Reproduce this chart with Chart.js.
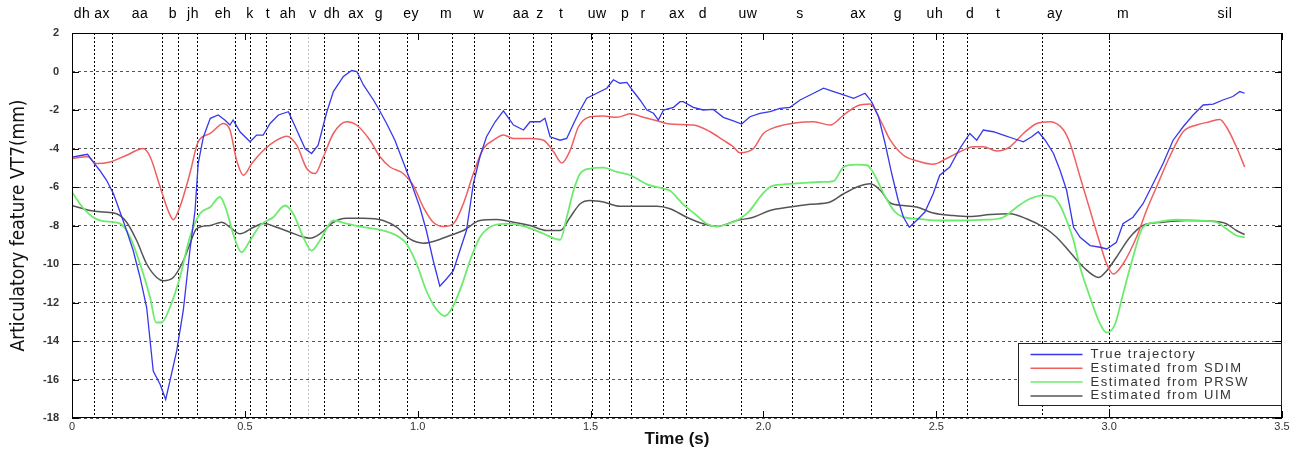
<!DOCTYPE html>
<html>
<head>
<meta charset="utf-8">
<script src="https://cdn.jsdelivr.net/npm/chart.js@4.4.1/dist/chart.umd.min.js"></script>
<style>
  html, body { margin: 0; padding: 0; background: #fff; }
  canvas { display: block; }
</style>
</head>
<body>
<canvas id="vt7-chart" width="1293" height="453"></canvas>
<script>
// Curves: time (s) and VT7 value (mm)
const trueTime = [0, 0.03, 0.045, 0.061, 0.08, 0.1, 0.12, 0.139, 0.158, 0.177, 0.197, 0.216, 0.235, 0.255, 0.271, 0.283, 0.303, 0.322, 0.341, 0.356, 0.365, 0.38, 0.4, 0.423, 0.442, 0.457, 0.466, 0.486, 0.515, 0.534, 0.553, 0.573, 0.597, 0.626, 0.65, 0.674, 0.693, 0.712, 0.736, 0.756, 0.785, 0.809, 0.824, 0.843, 0.872, 0.886, 0.91, 0.934, 0.958, 0.982, 1.006, 1.025, 1.045, 1.064, 1.083, 1.103, 1.122, 1.141, 1.161, 1.18, 1.199, 1.224, 1.248, 1.277, 1.306, 1.325, 1.354, 1.368, 1.383, 1.412, 1.431, 1.451, 1.47, 1.489, 1.508, 1.528, 1.547, 1.566, 1.585, 1.605, 1.624, 1.643, 1.663, 1.682, 1.696, 1.711, 1.74, 1.759, 1.768, 1.797, 1.826, 1.855, 1.884, 1.913, 1.937, 1.961, 1.99, 2.019, 2.048, 2.077, 2.106, 2.135, 2.174, 2.203, 2.232, 2.261, 2.294, 2.313, 2.333, 2.352, 2.371, 2.39, 2.405, 2.422, 2.443, 2.467, 2.491, 2.51, 2.539, 2.568, 2.597, 2.617, 2.636, 2.665, 2.694, 2.723, 2.752, 2.776, 2.795, 2.815, 2.839, 2.858, 2.877, 2.897, 2.916, 2.945, 2.974, 2.993, 3.021, 3.04, 3.069, 3.098, 3.127, 3.156, 3.185, 3.214, 3.243, 3.272, 3.301, 3.329, 3.358, 3.378, 3.392];
const trueVal = [-4.45, -4.35, -4.3, -4.7, -5.13, -5.65, -6.35, -7.3, -8.26, -9.3, -10.7, -12.26, -15.56, -16.26, -17.04, -16.1, -14.5, -12.4, -9.3, -7.2, -4.78, -3.4, -2.43, -2.26, -2.52, -2.78, -2.52, -3.13, -3.65, -3.3, -3.3, -2.7, -2.26, -2.09, -3.04, -4.0, -4.26, -3.83, -2.17, -1.04, -0.26, 0.05, 0.0, -0.7, -1.48, -1.91, -2.7, -3.57, -4.7, -5.83, -7.04, -8.26, -9.83, -11.15, -10.78, -10.35, -9.3, -8.26, -5.83, -4.43, -3.39, -2.61, -2.04, -2.78, -3.04, -2.61, -2.61, -2.43, -3.39, -3.57, -3.48, -2.7, -2.0, -1.39, -1.22, -1.04, -0.87, -0.43, -0.61, -0.57, -1.04, -1.48, -2.0, -2.17, -2.52, -2.0, -1.86, -1.57, -1.57, -1.86, -2.0, -1.97, -2.38, -2.56, -2.73, -2.35, -2.17, -2.09, -1.91, -1.86, -1.48, -1.22, -0.87, -1.04, -1.22, -1.39, -1.13, -1.57, -2.35, -3.74, -5.3, -6.7, -7.57, -8.09, -7.74, -7.3, -6.35, -5.39, -4.96, -4.0, -3.22, -3.57, -3.04, -3.13, -3.3, -3.48, -3.65, -3.39, -3.13, -3.57, -4.26, -5.13, -6.17, -8.09, -8.61, -9.04, -9.13, -9.22, -8.87, -7.91, -7.57, -6.87, -5.83, -4.78, -3.57, -2.87, -2.26, -1.74, -1.69, -1.48, -1.3, -1.04, -1.13];

const sdimTime = [0, 0.045, 0.071, 0.11, 0.158, 0.206, 0.226, 0.255, 0.278, 0.293, 0.312, 0.341, 0.365, 0.4, 0.438, 0.457, 0.476, 0.496, 0.52, 0.554, 0.592, 0.621, 0.65, 0.679, 0.703, 0.727, 0.756, 0.794, 0.823, 0.862, 0.891, 0.92, 0.958, 0.987, 1.016, 1.045, 1.074, 1.103, 1.132, 1.161, 1.19, 1.219, 1.248, 1.277, 1.325, 1.364, 1.393, 1.417, 1.441, 1.465, 1.499, 1.537, 1.576, 1.615, 1.653, 1.692, 1.73, 1.797, 1.846, 1.884, 1.913, 1.932, 1.971, 2.0, 2.039, 2.096, 2.145, 2.193, 2.232, 2.271, 2.309, 2.338, 2.367, 2.405, 2.443, 2.491, 2.53, 2.568, 2.607, 2.636, 2.675, 2.713, 2.752, 2.791, 2.829, 2.868, 2.887, 2.916, 2.945, 2.974, 2.993, 3.012, 3.04, 3.079, 3.108, 3.137, 3.175, 3.214, 3.253, 3.291, 3.32, 3.339, 3.368, 3.392];
const sdimVal = [-4.52, -4.43, -4.78, -4.7, -4.35, -4.0, -4.43, -6.0, -7.22, -7.7, -7.04, -5.3, -3.65, -3.22, -2.7, -3.04, -4.6, -5.39, -4.78, -4.09, -3.57, -3.36, -3.83, -5.04, -5.3, -4.43, -3.22, -2.61, -2.78, -3.57, -4.43, -4.96, -5.3, -5.91, -7.04, -7.83, -8.05, -7.91, -6.87, -5.3, -4.0, -3.57, -3.3, -3.48, -3.48, -3.57, -4.17, -4.75, -4.09, -2.87, -2.35, -2.31, -2.38, -2.2, -2.38, -2.56, -2.73, -2.78, -3.13, -3.57, -3.91, -4.22, -4.0, -3.22, -2.87, -2.66, -2.61, -2.78, -2.26, -1.79, -1.69, -2.52, -3.57, -4.35, -4.64, -4.82, -4.52, -4.17, -3.91, -3.91, -4.13, -3.91, -3.22, -2.7, -2.61, -3.04, -3.74, -5.48, -7.22, -8.96, -10.0, -10.52, -10.0, -8.61, -7.22, -6.0, -4.43, -3.13, -2.78, -2.61, -2.49, -2.87, -3.91, -4.96];

const prswTime = [0, 0.03, 0.061, 0.09, 0.139, 0.168, 0.197, 0.226, 0.243, 0.259, 0.283, 0.312, 0.341, 0.37, 0.4, 0.428, 0.447, 0.466, 0.49, 0.515, 0.544, 0.582, 0.616, 0.64, 0.669, 0.693, 0.717, 0.756, 0.794, 0.843, 0.9, 0.939, 0.968, 0.997, 1.025, 1.054, 1.079, 1.103, 1.132, 1.151, 1.18, 1.219, 1.267, 1.316, 1.364, 1.412, 1.431, 1.451, 1.47, 1.499, 1.537, 1.576, 1.615, 1.663, 1.711, 1.73, 1.768, 1.807, 1.836, 1.865, 1.903, 1.932, 1.961, 1.99, 2.019, 2.058, 2.116, 2.164, 2.203, 2.232, 2.271, 2.3, 2.319, 2.348, 2.377, 2.405, 2.443, 2.501, 2.559, 2.646, 2.694, 2.733, 2.771, 2.81, 2.839, 2.858, 2.877, 2.897, 2.916, 2.945, 2.97, 2.993, 3.017, 3.04, 3.069, 3.098, 3.137, 3.194, 3.253, 3.31, 3.339, 3.368, 3.392];
const prswVal = [-6.26, -7.04, -7.57, -7.77, -7.9, -8.6, -10.0, -11.74, -13.04, -13.04, -12.26, -10.7, -8.6, -7.39, -7.04, -6.52, -7.22, -8.43, -9.39, -8.78, -8.0, -7.57, -6.96, -7.39, -8.6, -9.3, -8.78, -7.74, -7.9, -8.09, -8.26, -8.52, -8.96, -10.0, -11.39, -12.35, -12.7, -12.17, -10.87, -9.83, -8.61, -8.0, -7.9, -8.09, -8.43, -8.74, -7.57, -6.17, -5.3, -5.04, -4.99, -5.22, -5.39, -5.86, -6.09, -6.2, -6.9, -7.48, -7.91, -8.05, -7.88, -7.65, -7.22, -6.52, -6.0, -5.86, -5.79, -5.74, -5.69, -4.96, -4.84, -4.87, -5.3, -6.35, -7.22, -7.57, -7.65, -7.74, -7.74, -7.7, -7.57, -7.04, -6.61, -6.43, -6.52, -6.96, -7.74, -8.78, -10.17, -11.74, -12.96, -13.57, -13.13, -11.57, -9.65, -8.09, -7.83, -7.7, -7.74, -7.83, -8.17, -8.52, -8.61];

const uimTime = [0, 0.052, 0.09, 0.129, 0.158, 0.187, 0.216, 0.245, 0.264, 0.293, 0.322, 0.341, 0.36, 0.4, 0.433, 0.457, 0.486, 0.525, 0.554, 0.592, 0.631, 0.669, 0.689, 0.717, 0.756, 0.794, 0.843, 0.9, 0.939, 0.977, 1.016, 1.054, 1.093, 1.132, 1.18, 1.229, 1.277, 1.325, 1.373, 1.412, 1.441, 1.47, 1.499, 1.537, 1.585, 1.634, 1.692, 1.73, 1.778, 1.826, 1.865, 1.923, 1.971, 2.019, 2.077, 2.135, 2.193, 2.232, 2.271, 2.309, 2.338, 2.367, 2.405, 2.443, 2.491, 2.549, 2.597, 2.656, 2.713, 2.761, 2.81, 2.848, 2.887, 2.926, 2.97, 2.993, 3.021, 3.06, 3.098, 3.156, 3.223, 3.301, 3.339, 3.368, 3.392];
const uimVal = [-6.96, -7.22, -7.3, -7.39, -7.83, -8.78, -10.0, -10.7, -10.87, -10.7, -9.83, -8.96, -8.17, -8.0, -7.83, -8.09, -8.43, -8.09, -7.9, -8.09, -8.35, -8.6, -8.66, -8.43, -7.83, -7.62, -7.62, -7.74, -8.09, -8.7, -8.92, -8.78, -8.52, -8.26, -7.74, -7.69, -7.83, -8.0, -8.26, -8.26, -7.57, -6.87, -6.7, -6.78, -7.0, -7.0, -7.0, -7.13, -7.57, -7.91, -8.05, -7.74, -7.57, -7.22, -7.04, -6.9, -6.78, -6.35, -6.0, -5.83, -6.17, -6.83, -6.96, -7.04, -7.35, -7.48, -7.53, -7.43, -7.39, -7.65, -8.09, -8.61, -9.39, -10.17, -10.7, -10.35, -9.65, -8.61, -8.0, -7.83, -7.74, -7.78, -7.91, -8.26, -8.47];

// Phone segmentation (boundaries in s) and labels along the top
const phoneBounds = [0.064, 0.117, 0.260, 0.308, 0.362, 0.471, 0.516, 0.560, 0.632, 0.683, 0.728, 0.828, 0.888, 0.970, 1.100, 1.162, 1.264, 1.333, 1.385, 1.505, 1.553, 1.617, 1.709, 1.776, 1.934, 2.083, 2.231, 2.311, 2.432, 2.518, 2.590, 2.805, 3.000];
const fadedBound = 0.683;
const phoneLabels = ["dh", "ax", "aa", "b", "jh", "eh", "k", "t", "ah", "v", "dh", "ax", "g", "ey", "m", "w", "aa", "z", "t", "uw", "p", "r", "ax", "d", "uw", "s", "ax", "g", "uh", "d", "t", "ay", "m", "sil"];
const phoneLabelTime = [0.029, 0.087, 0.197, 0.292, 0.350, 0.437, 0.515, 0.567, 0.625, 0.697, 0.752, 0.822, 0.888, 0.981, 1.082, 1.177, 1.299, 1.354, 1.415, 1.519, 1.600, 1.652, 1.750, 1.825, 1.955, 2.106, 2.274, 2.389, 2.496, 2.598, 2.679, 2.843, 3.040, 3.335];

const xTicks = [0, 0.5, 1, 1.5, 2, 2.5, 3, 3.5];
const yTicks = [-18, -16, -14, -12, -10, -8, -6, -4, -2, 0, 2];

const seriesNames = ["True trajectory", "Estimated from SDIM", "Estimated from PRSW", "Estimated from UIM"];

function pairs(ts, vs) {
  return ts.map((t, i) => ({ x: t, y: vs[i] }));
}

// boundaries, ticks, phone labels, frame and legend in the MATLAB look
const matlabLook = {
  id: "matlabLook",
  beforeDatasetsDraw(chart) {
    const { ctx, chartArea: a, scales } = chart;
    const x = scales.x, y = scales.y;
    ctx.save();
    ctx.lineWidth = 1;
    ctx.setLineDash([2, 2]);
    phoneBounds.forEach((t) => {
      const px = Math.round(x.getPixelForValue(t)) + 0.5;
      ctx.strokeStyle = t === fadedBound ? "#c4c4c4" : "#000";
      ctx.beginPath();
      ctx.moveTo(px, a.top);
      ctx.lineTo(px, a.bottom);
      ctx.stroke();
    });
    ctx.setLineDash([]);
    ctx.strokeStyle = "#000";
    xTicks.forEach((t) => {
      const px = Math.round(x.getPixelForValue(t)) + 0.5;
      ctx.beginPath();
      ctx.moveTo(px, a.bottom);
      ctx.lineTo(px, a.bottom - 7);
      ctx.moveTo(px, a.top);
      ctx.lineTo(px, a.top + 7);
      ctx.stroke();
    });
    yTicks.forEach((v) => {
      const py = Math.round(y.getPixelForValue(v)) + 0.5;
      ctx.beginPath();
      ctx.moveTo(a.left, py);
      ctx.lineTo(a.left + 7, py);
      ctx.moveTo(a.right, py);
      ctx.lineTo(a.right - 7, py);
      ctx.stroke();
    });
    ctx.fillStyle = "#000";
    ctx.font = "14px 'Liberation Sans', Arial, sans-serif";
    ctx.letterSpacing = "0.5px";
    ctx.textAlign = "center";
    ctx.textBaseline = "middle";
    phoneLabels.forEach((p, i) => {
      ctx.fillText(p, x.getPixelForValue(phoneLabelTime[i]), 14);
    });
    ctx.restore();
  },
  afterDatasetsDraw(chart) {
    const { ctx, chartArea: a } = chart;
    ctx.save();
    ctx.strokeStyle = "#000";
    ctx.lineWidth = 1;
    ctx.strokeRect(a.left + 0.5, a.top + 0.5, a.right - a.left - 1, a.bottom - a.top - 1);

    // legend box, lower right
    const w = 263, h = 62;
    const lx = Math.round(a.right) - 1 - w + 0.5;
    const ly = Math.round(a.bottom) - 13 - h + 0.5;
    ctx.fillStyle = "#fff";
    ctx.fillRect(lx, ly, w, h);
    ctx.strokeStyle = "#222";
    ctx.strokeRect(lx, ly, w, h);
    ctx.font = "13px 'Liberation Sans', Arial, sans-serif";
    ctx.letterSpacing = "1.5px";
    ctx.textBaseline = "middle";
    chart.data.datasets.forEach((ds, i) => {
      const ry = ly + 11 + i * 13.8;
      ctx.strokeStyle = ds.borderColor;
      ctx.lineWidth = 1.5;
      ctx.beginPath();
      ctx.moveTo(lx + 12, ry);
      ctx.lineTo(lx + 64, ry);
      ctx.stroke();
      ctx.fillStyle = "#333";
      ctx.fillText(ds.label, lx + 72, ry);
    });
    ctx.restore();
  },
};

new Chart(document.getElementById("vt7-chart"), {
  type: "line",
  data: {
    datasets: [
      { label: seriesNames[0], data: pairs(trueTime, trueVal), borderColor: "rgb(55, 55, 235)", borderWidth: 1.3, tension: 0 },
      { label: seriesNames[1], data: pairs(sdimTime, sdimVal), borderColor: "rgb(240, 95, 95)", borderWidth: 1.5, cubicInterpolationMode: "monotone" },
      { label: seriesNames[2], data: pairs(prswTime, prswVal), borderColor: "rgb(110, 235, 110)", borderWidth: 1.8, cubicInterpolationMode: "monotone" },
      { label: seriesNames[3], data: pairs(uimTime, uimVal), borderColor: "rgb(85, 85, 85)", borderWidth: 1.5, cubicInterpolationMode: "monotone" },
    ],
  },
  options: {
    responsive: false,
    animation: false,
    devicePixelRatio: 1,
    elements: { point: { radius: 0 } },
    layout: { padding: { top: 33, right: 11, left: 0, bottom: 0 } },
    plugins: { legend: { display: false }, tooltip: { enabled: false } },
    scales: {
      x: {
        type: "linear",
        min: 0,
        max: 3.5,
        afterBuildTicks: (s) => { s.ticks = xTicks.map((v) => ({ value: v })); },
        afterFit: (s) => { s.height = 35; },
        ticks: { color: "#333", font: { size: 11, family: "'Liberation Sans', Arial" }, padding: 2, maxRotation: 0 },
        grid: { display: false, drawTicks: false, tickLength: 0 },
        border: { display: false },
        title: { display: true, text: "Time (s)", color: "#111", font: { size: 17, weight: "bold", family: "'Liberation Sans', Arial" }, padding: { top: 0, bottom: 3 } },
      },
      y: {
        min: -18,
        max: 2,
        afterBuildTicks: (s) => { s.ticks = yTicks.map((v) => ({ value: v })); },
        afterFit: (s) => { s.width = 72; },
        ticks: { color: "#333", font: { size: 11, weight: "bold", family: "'Liberation Sans', Arial" }, padding: 13 },
        grid: { color: "#555", lineWidth: 1, drawTicks: false },
        border: { display: false, dash: [3, 3] },
        title: { display: true, text: "Articulatory feature VT7(mm)", color: "#111", font: { size: 19, family: "'Liberation Sans Narrow', 'DejaVu Sans Condensed', 'Liberation Sans', Arial" }, padding: { top: 8, bottom: 0 } },
      },
    },
  },
  plugins: [matlabLook],
});
</script>
</body>
</html>
